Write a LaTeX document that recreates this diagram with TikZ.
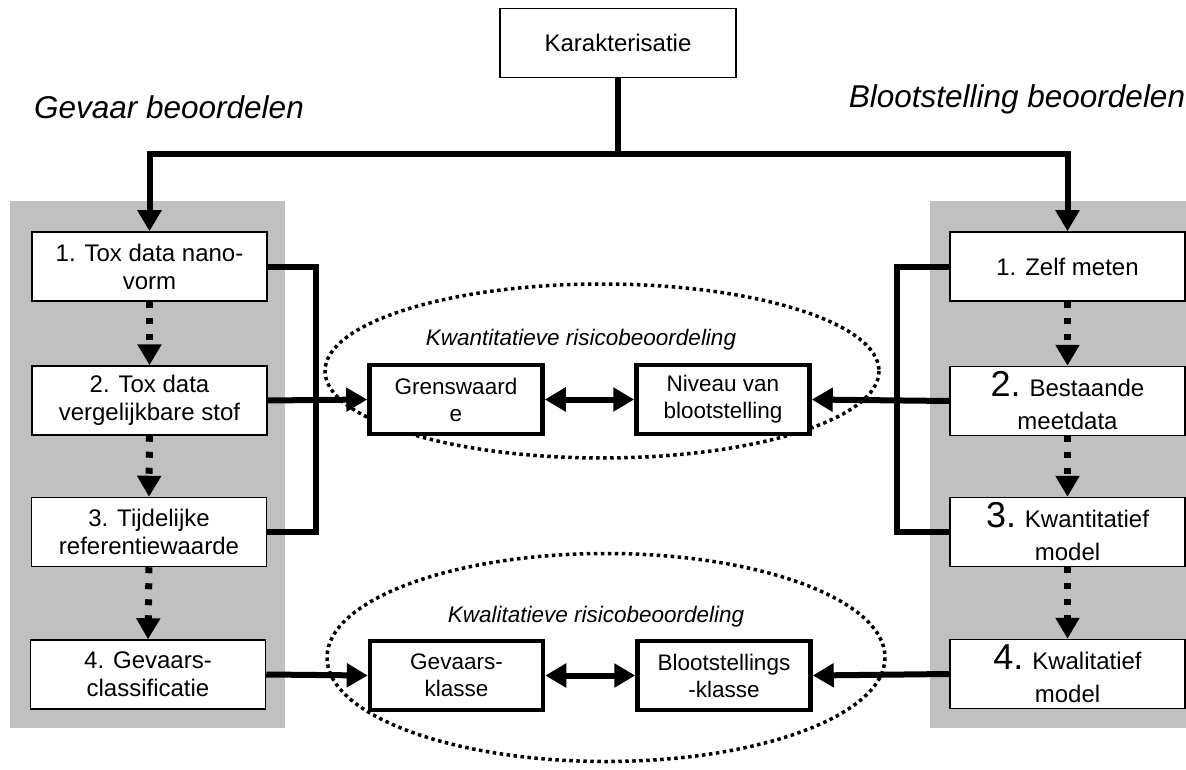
\documentclass[tikz,border=0pt]{standalone}
\usepackage{fontspec}
\setmainfont{Liberation Sans}
\usetikzlibrary{arrows.meta}
\definecolor{panelgray}{HTML}{C0C0C0}
\begin{document}
\begin{tikzpicture}[x=1pt,y=-1pt,
  box/.style={draw,line width=1.5pt,fill=white,minimum width=235pt,minimum height=69pt,inner sep=0pt,align=center,font=\fontsize{24}{28}\selectfont},
  rbox/.style={box,font=\fontsize{24}{33}\selectfont},
  midbox/.style={box,line width=4.5pt,minimum width=173pt,minimum height=69pt,font=\fontsize{22.5}{27}\selectfont},
  conn/.style={line width=6pt},
  arr/.style={-{Triangle[length=21pt,width=23pt]}},
  darr/.style={{Triangle[length=21pt,width=23pt]}-{Triangle[length=21pt,width=23pt]}},
  dotarr/.style={line width=7pt,dash pattern=on 6pt off 10pt,-{Triangle[length=21pt,width=23pt]}},
  oval/.style={line width=3.5pt,dash pattern=on 3.5pt off 3.5pt},
  title/.style={font=\fontsize{31.5}{36}\selectfont\itshape},
  sub/.style={font=\fontsize{22.5}{26}\selectfont\itshape}]
\newcommand{\bignum}[1]{{\fontsize{36}{33}\selectfont #1}}
\useasboundingbox (0,0) rectangle (1186,770);
% panels
\fill[panelgray] (10,201) rectangle (285,728);
\fill[panelgray] (930,201) rectangle (1186,728);
% ovals
\draw[oval] (602,371) ellipse [x radius=277, y radius=87];
\draw[oval] (606,657.5) ellipse [x radius=279, y radius=104];
% titles
\node[title] (tg) at (169,107.5) {Gevaar beoordelen};
\node[title] (tb) at (1017,99) {Blootstelling beoordelen};
\node[sub] (tq) at (581,340) {Kwantitatieve risicobeoordeling};
\node[sub] (tk) at (596,617) {Kwalitatieve risicobeoordeling};
% top
\node[box,minimum width=236pt] (k) at (618,43) {Karakterisatie};
% left column
\node[box] (l1) at (149.5,266.5) {1. Tox data nano-\\vorm};
\node[box] (l2) at (149.5,400.5) {2. Tox data\\vergelijkbare stof};
\node[box] (l3) at (149,532) {3. Tijdelijke\\referentiewaarde};
\node[box] (l4) at (148,674.5) {4. Gevaars-\\classificatie};
% right column
\node[box] (r1) at (1067.5,266.5) {1. Zelf meten};
\node[rbox] (r2) at (1067.5,401) {\bignum{2.} Bestaande\\meetdata};
\node[rbox] (r3) at (1067.5,532) {\bignum{3.} Kwantitatief\\model};
\node[rbox] (r4) at (1067.5,674) {\bignum{4.} Kwalitatief\\model};
% middle
\node[midbox] (g1) at (456,399.5) {Grenswaard\\e};
\node[midbox] (n1) at (723,399.5) {Niveau van\\blootstelling};
\node[midbox] (g2) at (456.5,675.5) {Gevaars-\\klasse};
\node[midbox] (b2) at (724,675.5) {Blootstellings\\-klasse};
% top connectors
\coordinate (j) at (618,154);
\draw[conn] (k.south) -- (j);
\draw[conn,arr] (j) -| (l1.north);
\draw[conn,arr] (j) -| (r1.north);
% dotted arrows
\draw[dotarr] (l1.south) -- (l2.north);
\draw[dotarr] (l2.south) -- (l3.north);
\draw[dotarr] (l3.south) -- (l4.north);
\draw[dotarr] (r1.south) -- (r2.north);
\draw[dotarr] (r2.south) -- (r3.north);
\draw[dotarr] (r3.south) -- (r4.north);
% brackets
\coordinate (lb) at (316,0);
\coordinate (rb) at (897,0);
\draw[conn] (l1.east) -| (lb |- l3.east) -- (l3.east);
\draw[conn] (r1.west) -| (rb |- r3.west) -- (r3.west);
\draw[conn,arr] (l2.east) -- (g1.west);
\draw[conn,arr] (r2.west) -- (n1.east);
\draw[conn,darr] (g1.east) -- (n1.west);
\draw[conn,arr] (l4.east) -- (g2.west);
\draw[conn,arr] (r4.west) -- (b2.east);
\draw[conn,darr] (g2.east) -- (b2.west);
\end{tikzpicture}
\end{document}
